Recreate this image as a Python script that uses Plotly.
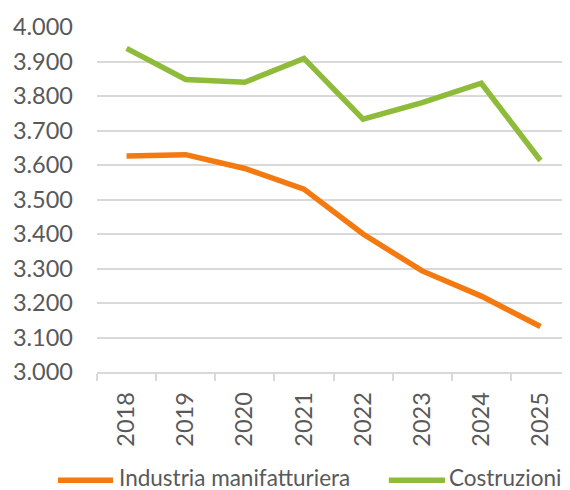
import plotly.graph_objects as go

years = ["2018", "2019", "2020", "2021", "2022", "2023", "2024", "2025"]
industria = [3626, 3630, 3590, 3530, 3400, 3293, 3220, 3132]
costruzioni = [3938, 3848, 3840, 3909, 3733, 3781, 3837, 3613]
series_names = ["Industria manifatturiera", "Costruzioni"]
series_colors = ["#F4790F", "#8FBB3A"]

font_family = "Lato, 'Open Sans', sans-serif"
grey = "#595959"
fsize = 23.5
legend_fsize = 22.5

fig = go.Figure()
for name, vals, col in zip(series_names, [industria, costruzioni], series_colors):
    fig.add_trace(go.Scatter(x=years, y=vals, mode="lines", name=name,
                             line=dict(color=col, width=5.5), showlegend=False))

# manual legend (paper coordinates)
line_y = -0.314
text_y = -0.307
legend_items = [(-0.0825, 0.0338, 0.0444), (0.617, 0.7357, 0.743)]
for (x0, x1, xt), name, col in zip(legend_items, series_names, series_colors):
    fig.add_shape(type="line", xref="paper", yref="paper", x0=x0, x1=x1,
                  y0=line_y, y1=line_y, line=dict(color=col, width=5.5))
    fig.add_annotation(xref="paper", yref="paper", x=xt, y=text_y, text=name,
                       showarrow=False, xanchor="left", yanchor="middle",
                       borderpad=0,
                       font=dict(size=legend_fsize, color=grey, family=font_family))

# page body has an 8px margin, so the figure is 8px smaller on each side
fig.update_layout(
    width=562, height=482,
    margin=dict(l=89, r=0, t=19, b=118, autoexpand=False),
    paper_bgcolor="white", plot_bgcolor="white",
    separators=",.",
    font=dict(family=font_family, size=fsize, color=grey),
    showlegend=False,
)
fig.update_xaxes(
    type="category", range=[-0.5, 7.5], tickangle=-90,
    showgrid=False, showline=True, linecolor="#d9d9d9", linewidth=1.5,
    ticks="outside", tickson="boundaries", ticklen=7, tickcolor="#d9d9d9", tickwidth=1.5,
    ticklabelstandoff=9, tickfont=dict(size=fsize, color=grey),
    automargin=False,
)
fig.update_yaxes(
    range=[3000, 4000], dtick=100, tickformat=",d",
    showgrid=True, gridcolor="#d9d9d9", gridwidth=1.5,
    zeroline=False, showline=False, ticks="",
    ticklabelstandoff=23, tickfont=dict(size=fsize, color=grey),
    automargin=False,
)

fig.write_html("out.html")
